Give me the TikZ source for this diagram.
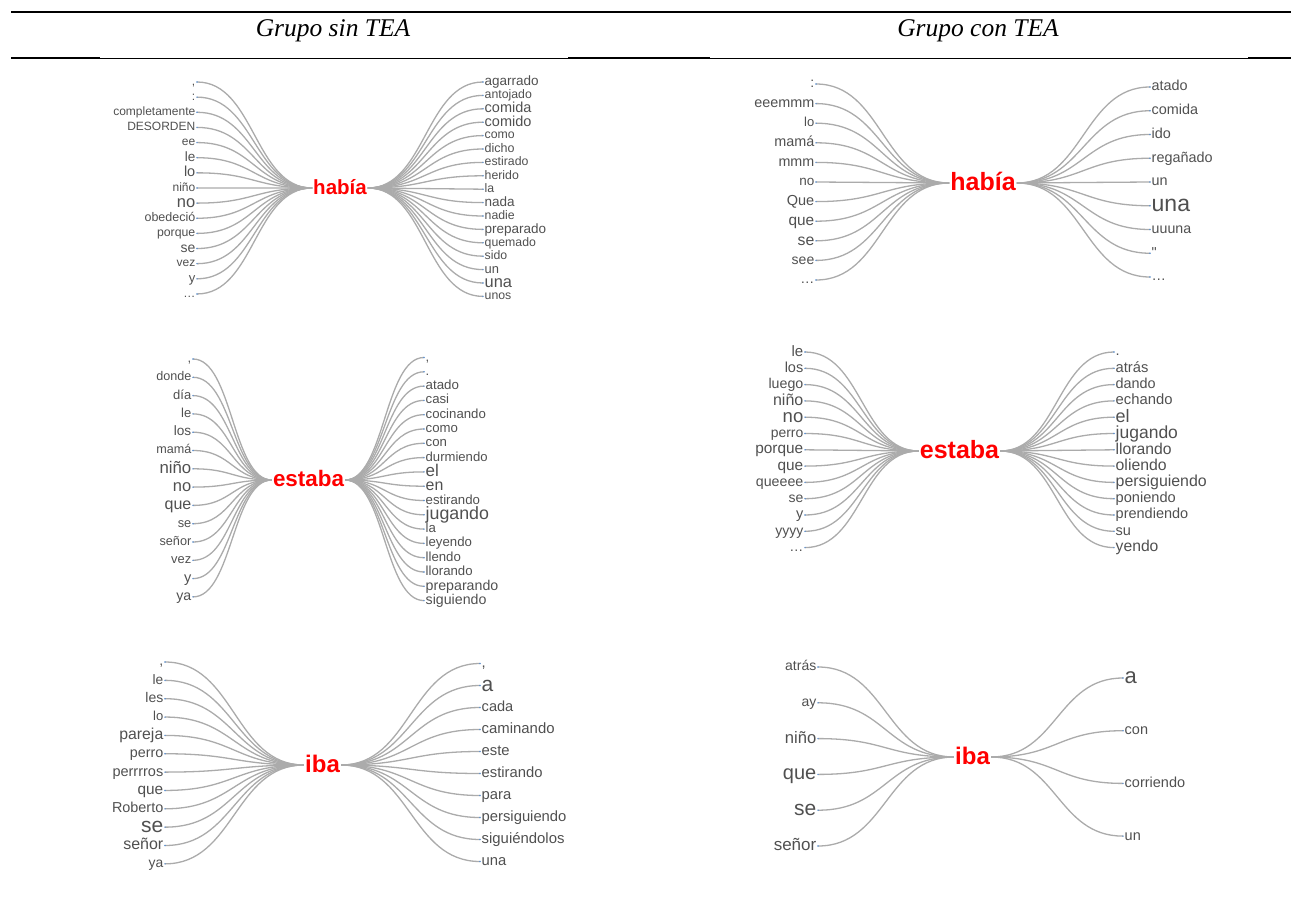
\documentclass[tikz,border=0pt]{standalone}
\usepackage{fontspec}
\setmainfont{Liberation Serif}
\newfontfamily\wtsans{Liberation Sans}
\usetikzlibrary{calc}
\definecolor{wtgray}{HTML}{505050}
\definecolor{wtlink}{HTML}{ABABAB}
\definecolor{wtdot}{HTML}{5A8FD0}
\definecolor{wtred}{HTML}{FF0000}
\newcommand\wtfont[1]{\fontsize{#1}{#1}\selectfont\wtsans}
\tikzset{
  leafL/.style={anchor=base east, inner xsep=1.5pt, inner ysep=0pt, text=wtgray},
  leafR/.style={anchor=base west, inner xsep=1.5pt, inner ysep=0pt, text=wtgray},
  kw/.style={anchor=base, inner xsep=1pt, inner ysep=0pt, text=wtred},
  link/.style={draw=wtlink, line width=1.3pt},
  leafdot/.style={fill=wtdot},
  rulethick/.style={line width=2pt},
  rulethin/.style={line width=0.9pt},
  headtxt/.style={font=\fontsize{25.5}{25.5}\selectfont\itshape, inner sep=0pt},
}
% keyword: name, x, y, size, text
\newcommand\wtkey[5]{%
  \coordinate (#1c) at (#2,#3);
  \node[kw, font=\wtfont{#4}\bfseries] (#1) at ([yshift={-0.3*#4*1pt}]#1c) {#5};
  \coordinate (#1w) at (#1.west |- #1c);
  \coordinate (#1e) at (#1.east |- #1c);}
\newcommand\wtleft[5]{% kw name, x, y0, step, list
  \foreach \s/\t [count=\i] in {#5}{
    \coordinate (#1p\i) at (#2,{#3+(\i-1)*#4});
    \node[leafL, font=\wtfont{\s}] (#1l\i) at ([yshift={-0.27*\s*1pt}]#1p\i) {\t};
    \draw[link] let \p1=(#1p\i), \p2=(#1w), \p3=($(\p1)!0.5!(\p2)$) in
      (\p1) .. controls (\x3,\y1) and (\x3,\y2) .. (\p2);
    \fill[leafdot] (#1p\i) circle (0.8);
  }}
\newcommand\wtright[5]{%
  \foreach \s/\t [count=\i] in {#5}{
    \coordinate (#1q\i) at (#2,{#3+(\i-1)*#4});
    \node[leafR, font=\wtfont{\s}] (#1r\i) at ([yshift={-0.27*\s*1pt}]#1q\i) {\t};
    \draw[link] let \p1=(#1q\i), \p2=(#1e), \p3=($(\p1)!0.5!(\p2)$) in
      (\p2) .. controls (\x3,\y2) and (\x3,\y1) .. (\p1);
    \fill[leafdot] (#1q\i) circle (0.8);
  }}
\begin{document}
\begin{tikzpicture}[x=1pt,y=-1pt]
\useasboundingbox (0,0) rectangle (1291,923);
% header
\draw[rulethick] (11,12) -- (1291,12);
\draw[rulethin] (100,58) -- (1250,58);
\draw[rulethick] (11,58) -- (100,58);
\draw[rulethick] (568,58) -- (710,58);
\draw[rulethick] (1248,58) -- (1291,58);
\node[headtxt] (h1) at (333,31) {Grupo sin TEA};
\node[headtxt] (h2) at (978,31) {Grupo con TEA};
% tree 1
\wtkey{A}{340}{188}{20.5}{había}
\wtleft{A}{197}{82}{15.14}{12/{,},12/:,12/completamente,12/DESORDEN,12/ee,13.5/le,14.5/lo,12/niño,16.5/no,12.5/obedeció,12.3/porque,14/se,12/vez,13/y,12/…}
\wtright{A}{483}{82}{13.4}{13.5/agarrado,12.3/antojado,14.5/comida,14.5/comido,12.3/como,12.5/dicho,12.3/estirado,12.3/herido,12.3/la,13.5/nada,12.3/nadie,13.5/preparado,12.3/quemado,12.3/sido,12.9/un,16.4/una,12.3/unos}
% tree 2
\wtkey{B}{983}{183}{25}{había}
\wtleft{B}{816}{84}{19.6}{14/:,14.4/eeemmm,13/lo,14.4/mamá,14.3/mmm,13.5/no,14.5/Que,15.4/que,15.8/se,14/see,14/…}
\wtright{B}{1150}{87}{23.75}{14.4/atado,14.4/comida,14.4/ido,14.4/regañado,14.4/un,23/una,14.2/uuuna,14.4/",14.4/…}
% tree 3
\wtkey{C}{308.5}{480}{22.4}{estaba}
\wtleft{C}{193}{359}{18.3}{13/{,},12.6/donde,13/día,13/le,13.6/los,12.6/mamá,16.8/niño,16.5/no,16/que,12.8/se,12.7/señor,12.9/vez,14.5/y,14.2/ya}
\wtright{C}{424}{357.5}{14.3}{13/{,},13/.,13.3/atado,13.2/casi,13.2/cocinando,13.2/como,13.2/con,13.1/durmiendo,17/el,15.9/en,13.2/estirando,17.8/jugando,13.2/la,13.2/leyendo,13.2/llendo,13.2/llorando,14.2/preparando,14.2/siguiendo}
% tree 4
\wtkey{D}{959.5}{451}{25}{estaba}
\wtleft{D}{805}{352}{16.3}{15/le,14.5/los,14.2/luego,16/niño,18.5/no,13.9/perro,15.4/porque,15.4/que,14.2/queeee,14/se,14.5/y,14/yyyy,14/…}
\wtright{D}{1114}{352}{16.3}{14.6/.,14.7/atrás,14.4/dando,14.8/echando,18/el,17.5/jugando,15.7/llorando,15.8/oliendo,15.9/persiguiendo,14.6/poniendo,14.5/prendiendo,14.5/su,15.7/yendo}
% tree 5
\wtkey{E}{322.5}{765}{24}{iba}
\wtleft{E}{165}{662}{18.35}{14/{,},13.7/le,14/les,13/lo,15.8/pareja,14.3/perro,14.5/perrrros,15.4/que,14.4/Roberto,21/se,16/señor,13.9/ya}
\wtright{E}{480}{663.5}{22}{14.8/{,},21/a,14.6/cada,14.9/caminando,14.8/este,14.8/estirando,14.8/para,14.8/persiguiendo,14.9/siguiéndolos,14.8/una}
% tree 6
\wtkey{F}{972.5}{757}{24}{iba}
\wtleft{F}{818}{667}{35.8}{14/atrás,14/ay,16.6/niño,20/que,21/se,17/señor}
\wtright{F}{1123}{678}{52.7}{22/a,14.5/con,14.5/corriendo,14.5/un}
\end{tikzpicture}
\end{document}
